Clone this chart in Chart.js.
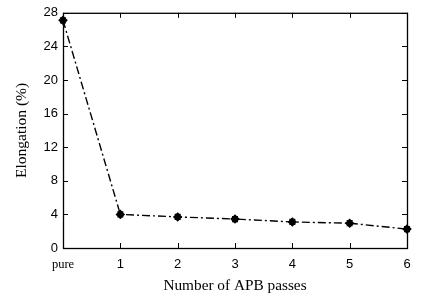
<!DOCTYPE html>
<html lang="en">
<head>
  <meta charset="UTF-8" />
  <title>Elongation vs APB passes</title>
  <script src="https://cdn.jsdelivr.net/npm/chart.js"></script>
  <style>
    * { margin: 0; padding: 0; box-sizing: border-box; }
    body { background: #fff; width: 421px; height: 295px; overflow: hidden; }
    #wrap { width: 421px; height: 295px; position: relative; }
  </style>
</head>
<body>
  <div id="wrap"><canvas id="chart"></canvas></div>

  <script>
    const passes = ['pure', '1', '2', '3', '4', '5', '6'];
    const elongation = [27.1, 4.0, 3.7, 3.45, 3.1, 2.95, 2.25];
    const errors = [0.3, 0.3, 0.3, 0.3, 0.3, 0.3, 0.3];
    const yTicks = [0, 4, 8, 12, 16, 20, 24, 28];

    // inner ticks on all four sides + error bars
    const frame = {
      id: 'frame',
      afterDatasetsDraw(chart) {
        const c = chart.ctx, a = chart.chartArea;
        const x = chart.scales.x, y = chart.scales.y;
        c.save();
        c.strokeStyle = '#000';
        c.lineWidth = 1;
        c.beginPath();
        passes.forEach((p, i) => {
          const px = Math.round(x.getPixelForValue(i)) + 0.5;
          c.moveTo(px, a.bottom); c.lineTo(px, a.bottom - 5);
          c.moveTo(px, a.top); c.lineTo(px, a.top + 5);
        });
        yTicks.forEach(v => {
          const py = Math.round(y.getPixelForValue(v)) + 0.5;
          c.moveTo(a.left, py); c.lineTo(a.left + 5, py);
          c.moveTo(a.right, py); c.lineTo(a.right - 5, py);
        });
        c.stroke();
        c.lineWidth = 1.2;
        c.beginPath();
        elongation.forEach((v, i) => {
          const px = x.getPixelForValue(i);
          const t = y.getPixelForValue(v + errors[i]);
          const b = y.getPixelForValue(v - errors[i]);
          c.moveTo(px, t); c.lineTo(px, b);
          c.moveTo(px - 3, t); c.lineTo(px + 3, t);
          c.moveTo(px - 3, b); c.lineTo(px + 3, b);
        });
        c.stroke();
        c.lineWidth = 1.3;
        c.strokeRect(a.left + 0.5, a.top + 0.5, a.right - a.left, a.bottom - a.top);
        c.restore();
      }
    };

    new Chart(document.getElementById('chart'), {
      type: 'line',
      data: {
        labels: passes,
        datasets: [{
          data: elongation,
          borderColor: '#000',
          backgroundColor: '#000',
          borderWidth: 1.4,
          borderDash: [8, 3, 2, 3],
          pointStyle: 'rectRot',
          pointRadius: 3.8,
          pointBackgroundColor: '#000',
          pointBorderColor: '#000',
          tension: 0
        }]
      },
      options: {
        responsive: true,
        maintainAspectRatio: false,
        animation: false,
        layout: { padding: { left: 13, right: 14, top: 11, bottom: 0 } },
        plugins: { legend: { display: false }, tooltip: { enabled: false } },
        scales: {
          x: {
            type: 'category',
            offset: false,
            grid: { display: false, drawTicks: false },
            border: { display: false },
            ticks: {
              color: '#000',
              padding: 9,
              maxRotation: 0,
              autoSkip: false,
              font: ctx => ctx.index === 0
                ? { family: 'Liberation Serif', size: 12.5 }
                : { family: 'Liberation Sans', size: 13 }
            },
            title: {
              display: true,
              text: 'Number of APB passes',
              color: '#000',
              font: { family: 'Liberation Serif', size: 15.3 },
              padding: { top: 4, bottom: 0 }
            },
            afterFit: s => { s.height = 47; }
          },
          y: {
            min: 0,
            max: 28,
            grid: { display: false, drawTicks: false },
            border: { display: false },
            ticks: {
              stepSize: 4,
              color: '#000',
              padding: 5,
              font: { family: 'Liberation Sans', size: 13 }
            },
            title: {
              display: true,
              text: 'Elongation (%)',
              color: '#000',
              font: { family: 'Liberation Serif', size: 15.5 },
              padding: { top: 0, bottom: 4 }
            },
            afterFit: s => { s.width = 50; }
          }
        }
      },
      plugins: [frame]
    });
  </script>
</body>
</html>
